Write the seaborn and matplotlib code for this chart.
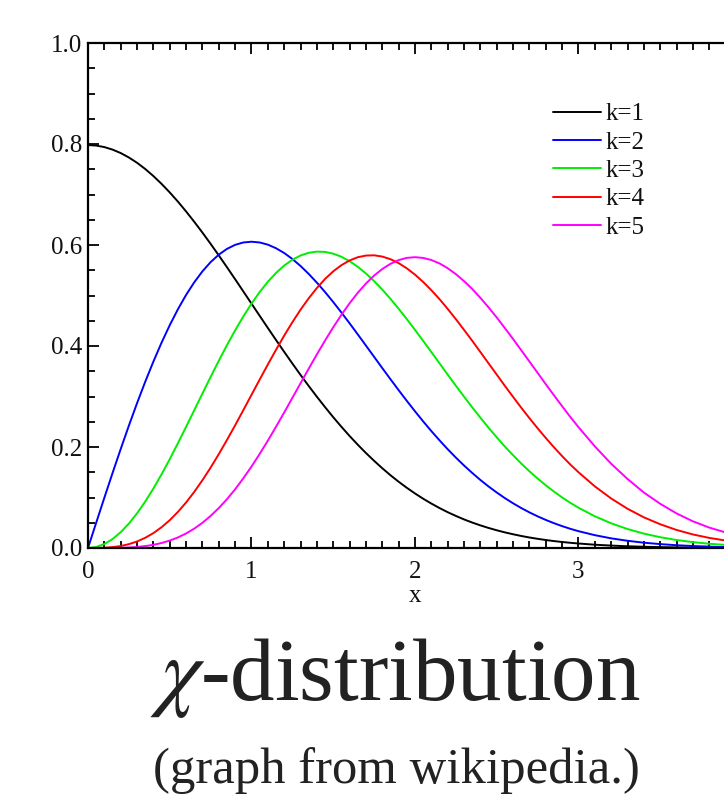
import numpy as np
import pandas as pd
import matplotlib
matplotlib.use("Agg")
import matplotlib.pyplot as plt
import seaborn as sns
from matplotlib.ticker import MultipleLocator
from matplotlib.lines import Line2D

# ---- data (chi pdf curves, k = 1..5) ----
x_vals = [0.0, 0.05, 0.1, 0.15, 0.2, 0.25, 0.3, 0.35, 0.4, 0.45,
          0.5, 0.55, 0.6, 0.65, 0.7, 0.75, 0.8, 0.85, 0.9, 0.95,
          1.0, 1.05, 1.1, 1.15, 1.2, 1.25, 1.3, 1.35, 1.4, 1.45,
          1.5, 1.55, 1.6, 1.65, 1.7, 1.75, 1.8, 1.85, 1.9, 1.95,
          2.0, 2.05, 2.1, 2.15, 2.2, 2.25, 2.3, 2.35, 2.4, 2.45,
          2.5, 2.55, 2.6, 2.65, 2.7, 2.75, 2.8, 2.85, 2.9, 2.95,
          3.0, 3.1, 3.2, 3.3, 3.4, 3.5, 3.6, 3.7, 3.8, 3.9, 4.0]
k1 = [0.7979, 0.7969, 0.7939, 0.7889, 0.7821, 0.7733, 0.7628, 0.7505, 0.7365, 0.7210,
      0.7041, 0.6859, 0.6664, 0.6459, 0.6245, 0.6023, 0.5794, 0.5560, 0.5322, 0.5081,
      0.4839, 0.4598, 0.4357, 0.4119, 0.3884, 0.3653, 0.3427, 0.3208, 0.2995, 0.2789,
      0.2590, 0.2400, 0.2218, 0.2045, 0.1881, 0.1726, 0.1579, 0.1441, 0.1312, 0.1192,
      0.1080, 0.0976, 0.0880, 0.0791, 0.0709, 0.0635, 0.0566, 0.0504, 0.0448, 0.0397,
      0.0351, 0.0309, 0.0272, 0.0238, 0.0208, 0.0182, 0.0158, 0.0137, 0.0119, 0.0103,
      0.0089, 0.0065, 0.0048, 0.0034, 0.0025, 0.0017, 0.0012, 0.0008, 0.0006, 0.0004, 0.0003]
k2 = [0.0, 0.0499, 0.0995, 0.1483, 0.1960, 0.2423, 0.2868, 0.3292, 0.3692, 0.4067,
      0.4412, 0.4728, 0.5012, 0.5262, 0.5479, 0.5661, 0.5809, 0.5923, 0.6003, 0.6050,
      0.6065, 0.6050, 0.6007, 0.5936, 0.5841, 0.5723, 0.5584, 0.5427, 0.5254, 0.5068,
      0.4870, 0.4663, 0.4449, 0.4230, 0.4008, 0.3785, 0.3562, 0.3342, 0.3125, 0.2913,
      0.2707, 0.2507, 0.2315, 0.2132, 0.1956, 0.1790, 0.1633, 0.1486, 0.1347, 0.1218,
      0.1099, 0.0987, 0.0885, 0.0791, 0.0705, 0.0627, 0.0556, 0.0491, 0.0433, 0.0380,
      0.0333, 0.0254, 0.0191, 0.0143, 0.0105, 0.0077, 0.0055, 0.0039, 0.0028, 0.0019, 0.0013]
k3 = [0.0, 0.0020, 0.0079, 0.0177, 0.0313, 0.0483, 0.0687, 0.0919, 0.1178, 0.1460,
      0.1760, 0.2075, 0.2399, 0.2729, 0.3060, 0.3388, 0.3708, 0.4017, 0.4311, 0.4586,
      0.4839, 0.5069, 0.5272, 0.5447, 0.5593, 0.5708, 0.5792, 0.5846, 0.5869, 0.5863,
      0.5828, 0.5767, 0.5679, 0.5569, 0.5436, 0.5285, 0.5116, 0.4933, 0.4737, 0.4532,
      0.4319, 0.4101, 0.3879, 0.3657, 0.3434, 0.3213, 0.2997, 0.2786, 0.2580, 0.2381,
      0.2191, 0.2008, 0.1837, 0.1672, 0.1519, 0.1376, 0.1241, 0.1117, 0.1001, 0.0894,
      0.0798, 0.0628, 0.0489, 0.0375, 0.0285, 0.0214, 0.0158, 0.0116, 0.0084, 0.0061, 0.0043]
k4 = [0.0, 0.0001, 0.0005, 0.0017, 0.0039, 0.0076, 0.0129, 0.0202, 0.0295, 0.0412,
      0.0551, 0.0715, 0.0902, 0.1112, 0.1343, 0.1592, 0.1859, 0.2140, 0.2430, 0.2730,
      0.3033, 0.3335, 0.3634, 0.3925, 0.4206, 0.4471, 0.4719, 0.4945, 0.5149, 0.5328,
      0.5479, 0.5601, 0.5694, 0.5758, 0.5791, 0.5796, 0.5771, 0.5719, 0.5641, 0.5538,
      0.5413, 0.5268, 0.5105, 0.4928, 0.4734, 0.4531, 0.4319, 0.4103, 0.3880, 0.3656,
      0.3433, 0.3209, 0.2992, 0.2777, 0.2571, 0.2371, 0.2178, 0.1994, 0.1819, 0.1653,
      0.1500, 0.1220, 0.0980, 0.0777, 0.0607, 0.0470, 0.0357, 0.0268, 0.0200, 0.0148, 0.0107]
k5 = [0.0, 0.0, 0.00003, 0.0001, 0.0004, 0.0010, 0.0021, 0.0038, 0.0063, 0.0099,
      0.0147, 0.0209, 0.0288, 0.0384, 0.0500, 0.0635, 0.0791, 0.0967, 0.1163, 0.1380,
      0.1613, 0.1863, 0.2126, 0.2401, 0.2684, 0.2973, 0.3263, 0.3551, 0.3835, 0.4109,
      0.4371, 0.4618, 0.4846, 0.5054, 0.5237, 0.5395, 0.5525, 0.5628, 0.5701, 0.5745,
      0.5759, 0.5744, 0.5703, 0.5635, 0.5540, 0.5423, 0.5284, 0.5129, 0.4953, 0.4764,
      0.4565, 0.4353, 0.4138, 0.3915, 0.3692, 0.3468, 0.3243, 0.3023, 0.2807, 0.2595,
      0.2393, 0.2012, 0.1668, 0.1366, 0.1098, 0.0875, 0.0684, 0.0528, 0.0404, 0.0308, 0.0228]
series_names = ["k=1", "k=2", "k=3", "k=4", "k=5"]
series_colors = ["#000000", "#0000ff", "#00ee00", "#ff0000", "#ff00ff"]
y_tick_labels = ["0.0", "0.2", "0.4", "0.6", "0.8", "1.0"]
x_tick_labels = ["0", "1", "2", "3"]
title_text = r"$\chi$-distribution"
subtitle_text = "(graph from wikipedia.)"

frames = []
for name, vals in zip(series_names, [k1, k2, k3, k4, k5]):
    frames.append(pd.DataFrame({"x": x_vals, "y": vals, "k": name}))
df = pd.concat(frames, ignore_index=True)

sns.set_theme(style="white")
plt.rcParams["font.family"] = ["Liberation Serif", "DejaVu Serif"]
plt.rcParams["mathtext.fontset"] = "stix"

W, H = 724, 809
fig = plt.figure(figsize=(W / 100, H / 100), dpi=100)
ax_left, ax_right_x4 = 88, 742
ax_top, ax_bottom = 43, 548
ax = fig.add_axes([ax_left / W, (H - ax_bottom) / H,
                   (ax_right_x4 - ax_left) / W, (ax_bottom - ax_top) / H])

sns.lineplot(data=df, x="x", y="y", hue="k", palette=dict(zip(series_names, series_colors)),
             linewidth=1.4, ax=ax, legend=False, sort=True)
for ln in ax.get_lines():
    ln.set_solid_joinstyle("round")

ax.set_xlim(0, 4)
ax.set_ylim(0, 1.0)
ax.xaxis.set_minor_locator(MultipleLocator(0.1))
ax.yaxis.set_minor_locator(MultipleLocator(0.05))
ax.set_yticks([0, 0.2, 0.4, 0.6, 0.8, 1.0])
ax.set_yticklabels(y_tick_labels)
ax.set_xticks([0, 1, 2, 3])
ax.set_xticklabels(x_tick_labels)

for s in ax.spines.values():
    s.set_linewidth(1.6)
    s.set_color("black")
ax.tick_params(which="both", direction="in", top=True, right=True, bottom=True, left=True,
               color="black", width=1.3, labelsize=18, labelcolor="#111111")
ax.tick_params(which="major", length=8)
ax.tick_params(which="minor", length=5)
ax.tick_params(axis="x", which="major", pad=9)
ax.tick_params(axis="y", which="major", pad=4)
ax.set_xlabel("x", fontsize=18, labelpad=1.5, color="#111111")
ax.set_ylabel("")

# legend
handles = [Line2D([0], [0], color=c, lw=1.4) for c in series_colors]
leg = fig.legend(handles, series_names, loc="upper left",
                 bbox_to_anchor=(553 / W, 1 - 103 / H), frameon=False,
                 fontsize=18, handlelength=1.9, handletextpad=0.2,
                 labelspacing=0.23, borderaxespad=0, borderpad=0)
for t in leg.get_texts():
    t.set_color("#111111")

fig.text(395 / W, 1 - 700 / H, title_text, fontsize=64, ha="center", va="baseline",
         color="#222222")
fig.text(396 / W, 1 - 783 / H, subtitle_text, fontsize=36.5, ha="center", va="baseline",
         color="#222222")

fig.savefig("out.png", dpi=100, facecolor="white")
